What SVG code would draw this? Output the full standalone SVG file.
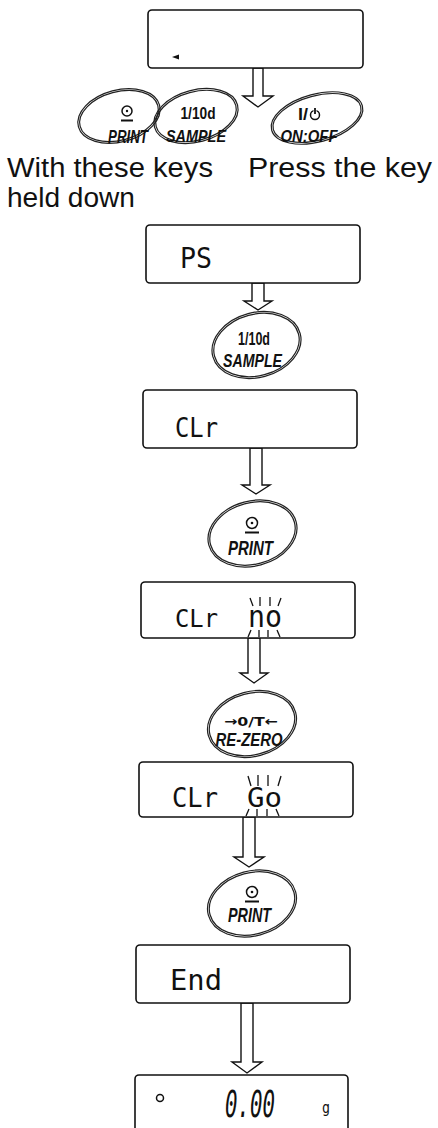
<svg xmlns="http://www.w3.org/2000/svg" width="438" height="1128" viewBox="0 0 438 1128">
<style>
.box{fill:#fff;stroke:#111;stroke-width:1.6}
.key{fill:none;stroke:#222;stroke-width:1.2}
.arrow{fill:#fff;stroke:#111;stroke-width:1.4;stroke-linejoin:miter}
.seg{font-family:"DejaVu Sans Mono","Liberation Mono",monospace;fill:#111}
.kt{font-family:"Liberation Sans",Arial,sans-serif;font-weight:bold;font-style:italic;fill:#111;text-anchor:middle}
.kn{font-family:"Liberation Sans",Arial,sans-serif;font-weight:bold;fill:#111;text-anchor:middle}
.ka{font-family:"DejaVu Sans",sans-serif;font-weight:bold;fill:#111;text-anchor:middle}
.label{font-family:"Liberation Sans",Arial,sans-serif;font-size:27px;fill:#111}
.blink{stroke:#111;stroke-width:1.3}
.icon{fill:none;stroke:#111;stroke-width:1.5}
</style>
<rect width="438" height="1128" fill="#fff"/>

<g id="connectors">
<polygon class="arrow" points="253,68 263,68 263,96 273,96 258,107 243,96 253,96"/>
<polygon class="arrow" points="252,283 264,283 264,301 272,301 258,310 244,301 252,301"/>
<polygon class="arrow" points="250,448 262,448 262,485 270,485 256,494 242,485 250,485"/>
<polygon class="arrow" points="248,638 260,638 260,673 268,673 254,683 240,673 248,673"/>
<polygon class="arrow" points="243,817 255,817 255,857 264,857 249,867 234,857 243,857"/>
<polygon class="arrow" points="241,1003 253,1003 253,1062 262,1062 247,1073 232,1062 241,1062"/>
</g>

<g id="display-start">
<rect class="box" x="148" y="10" width="215" height="58" rx="4"/>
<polygon points="172,57 179,54.5 179,59.5" fill="#111"/>
</g>

<g id="key-print-top">
<ellipse class="key" cx="119" cy="116" rx="42" ry="26" transform="rotate(-15 119 116)"/>
<ellipse class="key" cx="119" cy="116" rx="40.2" ry="24.2" transform="rotate(-15 119 116)"/>
<circle class="icon" cx="127" cy="111" r="5"/>
<circle cx="127" cy="111" r="1.2" fill="#111"/>
<line x1="121" y1="120.5" x2="133" y2="120.5" stroke="#111" stroke-width="2"/>
<text class="kt" x="128" y="143" font-size="18" textLength="40" lengthAdjust="spacingAndGlyphs">PRINT</text>
</g>

<g id="key-sample-top">
<ellipse class="key" cx="196" cy="116" rx="43" ry="26" transform="rotate(-15 196 116)"/>
<ellipse class="key" cx="196" cy="116" rx="41.2" ry="24.2" transform="rotate(-15 196 116)"/>
<text class="kn" x="198" y="119" font-size="16" textLength="35" lengthAdjust="spacingAndGlyphs">1/10d</text>
<text class="kt" x="196" y="142" font-size="17" textLength="60" lengthAdjust="spacingAndGlyphs">SAMPLE</text>
</g>

<g id="key-onoff-top">
<ellipse class="key" cx="317" cy="118" rx="47" ry="24" transform="rotate(-15 317 118)"/>
<ellipse class="key" cx="317" cy="118" rx="45.2" ry="22.2" transform="rotate(-15 317 118)"/>
<text class="kn" x="303" y="120" font-size="16" textLength="10" lengthAdjust="spacingAndGlyphs">I/</text>
<circle class="icon" cx="315" cy="115" r="4.5" stroke-width="2"/>
<line x1="315" y1="108" x2="315" y2="114" stroke="#fff" stroke-width="3"/>
<line x1="315" y1="108" x2="315" y2="114" stroke="#111" stroke-width="1.8"/>
<text class="kt" x="309" y="142" font-size="17" textLength="57" lengthAdjust="spacingAndGlyphs">ON:OFF</text>
</g>

<g id="labels">
<text class="label" x="7" y="177" textLength="206" lengthAdjust="spacingAndGlyphs">With these keys</text>
<text class="label" x="248" y="177" textLength="184" lengthAdjust="spacingAndGlyphs">Press the key</text>
<text class="label" x="7" y="207" textLength="128" lengthAdjust="spacingAndGlyphs">held down</text>
</g>

<g id="display-ps">
<rect class="box" x="146" y="225" width="214" height="58" rx="4"/>
<text class="seg" x="180" y="268" font-size="29" textLength="32" lengthAdjust="spacingAndGlyphs">PS</text>
</g>

<g id="key-sample">
<ellipse class="key" cx="256.5" cy="345" rx="45.2" ry="32.5" transform="rotate(-15 256.5 345)"/>
<ellipse class="key" cx="256.5" cy="345" rx="43.4" ry="30.7" transform="rotate(-15 256.5 345)"/>
<text class="kn" x="254" y="345" font-size="19" textLength="32" lengthAdjust="spacingAndGlyphs">1/10d</text>
<text class="kt" x="252.5" y="367" font-size="19" textLength="59" lengthAdjust="spacingAndGlyphs">SAMPLE</text>
</g>

<g id="display-clr">
<rect class="box" x="143" y="390" width="214" height="58" rx="4"/>
<text class="seg" x="175" y="437" font-size="27" textLength="43" lengthAdjust="spacingAndGlyphs">CLr</text>
</g>

<g id="key-print-1">
<ellipse class="key" cx="252.5" cy="533.5" rx="45.2" ry="32.5" transform="rotate(-15 252.5 533.5)"/>
<ellipse class="key" cx="252.5" cy="533.5" rx="43.4" ry="30.7" transform="rotate(-15 252.5 533.5)"/>
<circle class="icon" cx="252" cy="523" r="5.5"/>
<circle cx="252" cy="523" r="1.3" fill="#111"/>
<line x1="245" y1="532.5" x2="259" y2="532.5" stroke="#111" stroke-width="2"/>
<text class="kt" x="250.5" y="555" font-size="20" textLength="45" lengthAdjust="spacingAndGlyphs">PRINT</text>
</g>

<g id="display-clr-no">
<rect class="box" x="141" y="582" width="214" height="56" rx="4"/>
<text class="seg" x="175" y="627" font-size="24" textLength="43" lengthAdjust="spacingAndGlyphs">CLr</text>
<text class="seg" x="248" y="627" font-size="30" textLength="34" lengthAdjust="spacingAndGlyphs">no</text>
<g class="blink">
<line x1="250" y1="598" x2="253" y2="606"/>
<line x1="260" y1="597" x2="260" y2="606"/>
<line x1="270" y1="597" x2="270" y2="606"/>
<line x1="281" y1="598" x2="278" y2="606"/>
<line x1="251" y1="630" x2="248" y2="637"/>
<line x1="259" y1="630" x2="259" y2="637"/>
<line x1="268" y1="630" x2="268" y2="637"/>
<line x1="277" y1="630" x2="280" y2="637"/>
</g>
</g>

<g id="key-rezero">
<ellipse class="key" cx="252" cy="724" rx="45.2" ry="32.5" transform="rotate(-15 252 724)"/>
<ellipse class="key" cx="252" cy="724" rx="43.4" ry="30.7" transform="rotate(-15 252 724)"/>
<text class="ka" x="251" y="726" font-size="13" textLength="54" lengthAdjust="spacingAndGlyphs">→0/T←</text>
<text class="kt" x="249" y="746" font-size="19" textLength="67" lengthAdjust="spacingAndGlyphs">RE-ZERO</text>
</g>

<g id="display-clr-go">
<rect class="box" x="139" y="762" width="214" height="55" rx="4"/>
<text class="seg" x="172" y="807" font-size="26" textLength="46" lengthAdjust="spacingAndGlyphs">CLr</text>
<text class="seg" x="247" y="807" font-size="26" textLength="35" lengthAdjust="spacingAndGlyphs">Go</text>
<g class="blink">
<line x1="248" y1="776" x2="251" y2="786"/>
<line x1="258" y1="775" x2="258" y2="786"/>
<line x1="268" y1="775" x2="268" y2="786"/>
<line x1="281" y1="776" x2="278" y2="786"/>
<line x1="249" y1="809" x2="246" y2="816"/>
<line x1="257" y1="809" x2="257" y2="816"/>
<line x1="267" y1="809" x2="267" y2="816"/>
<line x1="276" y1="809" x2="279" y2="816"/>
</g>
</g>

<g id="key-print-2">
<ellipse class="key" cx="252" cy="903.5" rx="45.2" ry="32.5" transform="rotate(-15 252 903.5)"/>
<ellipse class="key" cx="252" cy="903.5" rx="43.4" ry="30.7" transform="rotate(-15 252 903.5)"/>
<circle class="icon" cx="252" cy="892" r="5.5"/>
<circle cx="252" cy="892" r="1.3" fill="#111"/>
<line x1="245" y1="901.5" x2="259" y2="901.5" stroke="#111" stroke-width="2"/>
<text class="kt" x="249.5" y="922" font-size="20" textLength="43" lengthAdjust="spacingAndGlyphs">PRINT</text>
</g>

<g id="display-end">
<rect class="box" x="136" y="945" width="214" height="58" rx="4"/>
<text class="seg" x="170" y="990" font-size="28" textLength="52" lengthAdjust="spacingAndGlyphs">End</text>
</g>

<g id="display-zero">
<rect class="box" x="135" y="1075" width="213" height="70" rx="4"/>
<circle class="icon" cx="160" cy="1098" r="3.5"/>
<text class="seg" x="225" y="1117" font-size="37" font-style="oblique" textLength="50" lengthAdjust="spacingAndGlyphs">0.00</text>
<text class="seg" x="322" y="1113" font-size="16" textLength="8" lengthAdjust="spacingAndGlyphs">g</text>
</g>
</svg>
